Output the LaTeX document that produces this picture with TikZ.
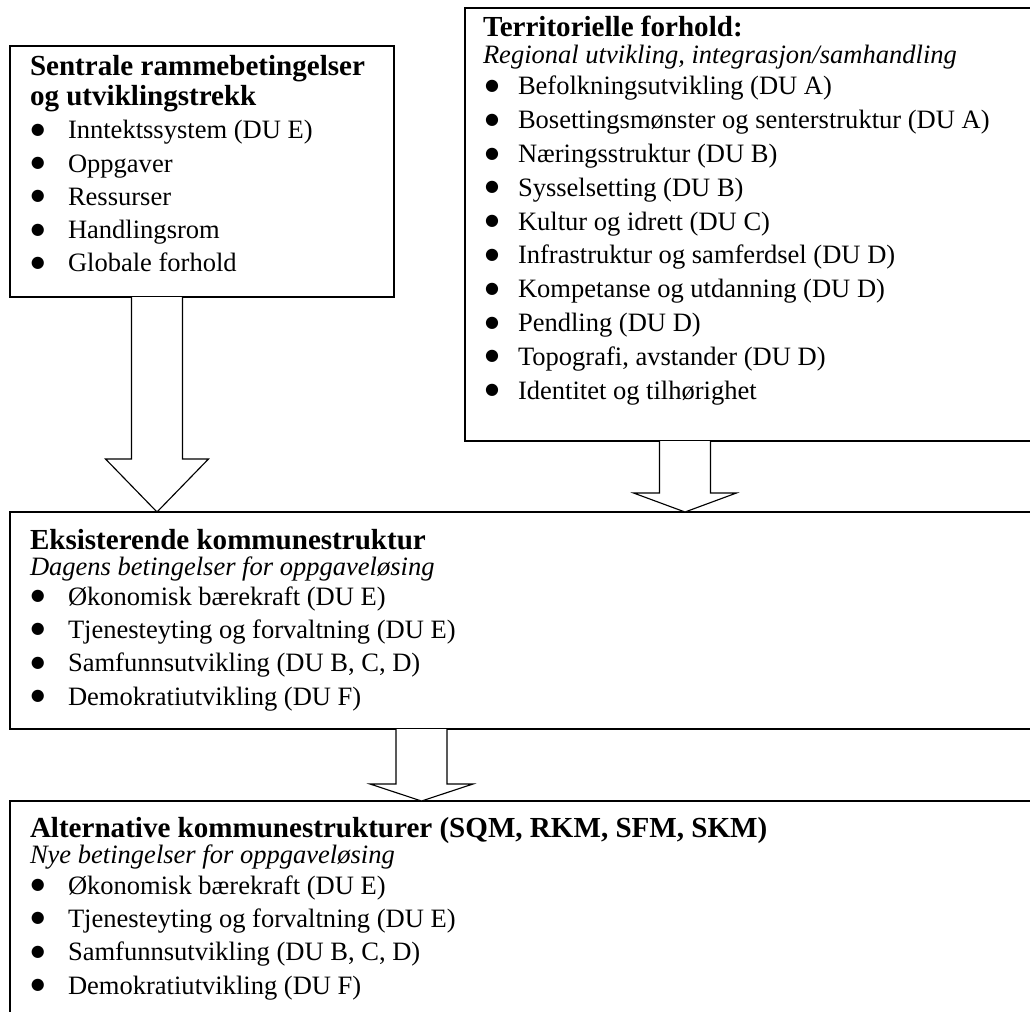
\documentclass[tikz,border=0pt]{standalone}
\usepackage{fontspec}
\setmainfont{Liberation Serif}
\newfontfamily\bulfam{DejaVu Sans}
\usetikzlibrary{calc}
\newcommand\ttlfont{\fontsize{21.8}{26}\selectfont\bfseries}
\newcommand\bodyfont{\fontsize{19.9}{24}\selectfont}
\newcommand\itfont{\fontsize{19.9}{24}\selectfont\itshape}
\newcommand\bulfont{\bulfam\fontsize{12}{12}\selectfont}
% #1 start coordinate, #2 tip coordinate, #3 head length
\newcommand\fatarrow[3]{%
  \draw[arrowline] let \p1=(#1), \p2=(#2) in
    (\x1-19.1pt,\y1) -- (\x1-19.1pt,\y2+#3) -- (\x1-38.6pt,\y2+#3) -- (\x2,\y2)
    -- (\x1+38.6pt,\y2+#3) -- (\x1+19.1pt,\y2+#3) -- (\x1+19.1pt,\y1);}
\begin{document}
\begin{tikzpicture}[x=0.75pt,y=-0.75pt,
  box/.style={draw=black, line width=1.1pt, fill=white, anchor=north west, inner sep=0pt, outer sep=0pt},
  arrowline/.style={draw=black, line width=0.85pt, line join=miter, fill=white},
  txt/.style={anchor=base west, inner sep=0pt, outer sep=0pt},
  ttl/.style={txt, font=\ttlfont},
  itl/.style={txt, font=\itfont},
  itm/.style={txt, font=\bodyfont},
  dot/.style={txt, font=\bulfont}]
\useasboundingbox (0,0) rectangle (1030,1012);
\clip (0,0) rectangle (1030,1012);
\fill[white] (0,0) rectangle (1030,1012);

% boxes
\node[box, minimum width=288pt, minimum height=188.25pt] (b1) at (10,46) {};
\node[box, minimum width=435pt, minimum height=324.75pt] (b2) at (465,8) {};
\node[box, minimum width=772.5pt, minimum height=162.75pt] (b3) at (10,512) {};
\node[box, minimum width=772.5pt, minimum height=200pt] (b4) at (10,801) {};

% box 1 text
\node[ttl] (b1h1) at (30,76) {Sentrale rammebetingelser};
\node[ttl] (b1h2) at (30,106) {og utviklingstrekk};
\foreach \t [count=\i, evaluate=\i as \yy using 139+(\i-1)*33.2] in
  {Inntektssystem (DU E), Oppgaver, Ressurser, Handlingsrom, Globale forhold}{
  \node[dot] (b1d\i) at (31,\yy-4.5) {●};
  \node[itm] (b1t\i) at (68,\yy) {\t};
}

% box 2 text
\node[ttl] (b2h1) at (483,37) {Territorielle forhold:};
\node[itl] (b2h2) at (483,64) {Regional utvikling, integrasjon/samhandling};
\foreach \t [count=\i, evaluate=\i as \yy using 95+(\i-1)*33.8] in
  {Befolkningsutvikling (DU A), Bosettingsmønster og senterstruktur (DU A),
   Næringsstruktur (DU B), Sysselsetting (DU B), Kultur og idrett (DU C),
   Infrastruktur og samferdsel (DU D), Kompetanse og utdanning (DU D),
   Pendling (DU D), {Topografi, avstander (DU D)}, Identitet og tilhørighet}{
  \node[dot] (b2d\i) at (485,\yy-4.5) {●};
  \node[itm] (b2t\i) at (518,\yy) {\t};
}

% box 3 text
\node[ttl] (b3h1) at (30,549) {Eksisterende kommunestruktur};
\node[itl] (b3h2) at (30,575) {Dagens betingelser for oppgaveløsing};
\foreach \t [count=\i, evaluate=\i as \yy using 605+(\i-1)*33.4] in
  {Økonomisk bærekraft (DU E), Tjenesteyting og forvaltning (DU E),
   {Samfunnsutvikling (DU B, C, D)}, Demokratiutvikling (DU F)}{
  \node[dot] (b3d\i) at (31,\yy-4.5) {●};
  \node[itm] (b3t\i) at (68,\yy) {\t};
}

% box 4 text
\node[ttl] (b4h1) at (30,837) {Alternative kommunestrukturer (SQM, RKM, SFM, SKM)};
\node[itl] (b4h2) at (30,863) {Nye betingelser for oppgaveløsing};
\foreach \t [count=\i, evaluate=\i as \yy using 894+(\i-1)*33.4] in
  {Økonomisk bærekraft (DU E), Tjenesteyting og forvaltning (DU E),
   {Samfunnsutvikling (DU B, C, D)}, Demokratiutvikling (DU F)}{
  \node[dot] (b4d\i) at (31,\yy-4.5) {●};
  \node[itm] (b4t\i) at (68,\yy) {\t};
}

% arrows
\coordinate (a1s) at ($(b1.south west)+(147,0)$);
\coordinate (a1e) at (a1s |- b3.north);
\coordinate (a2s) at ($(b2.south west)+(220,0)$);
\coordinate (a2e) at (a2s |- b3.north);
\coordinate (a3s) at ($(b3.south west)+(411.5,0)$);
\coordinate (a3e) at (a3s |- b4.north);
\fatarrow{a1s}{a1e}{39.75pt}
\fatarrow{a2s}{a2e}{14.25pt}
\fatarrow{a3s}{a3e}{12.75pt}
\end{tikzpicture}
\end{document}
